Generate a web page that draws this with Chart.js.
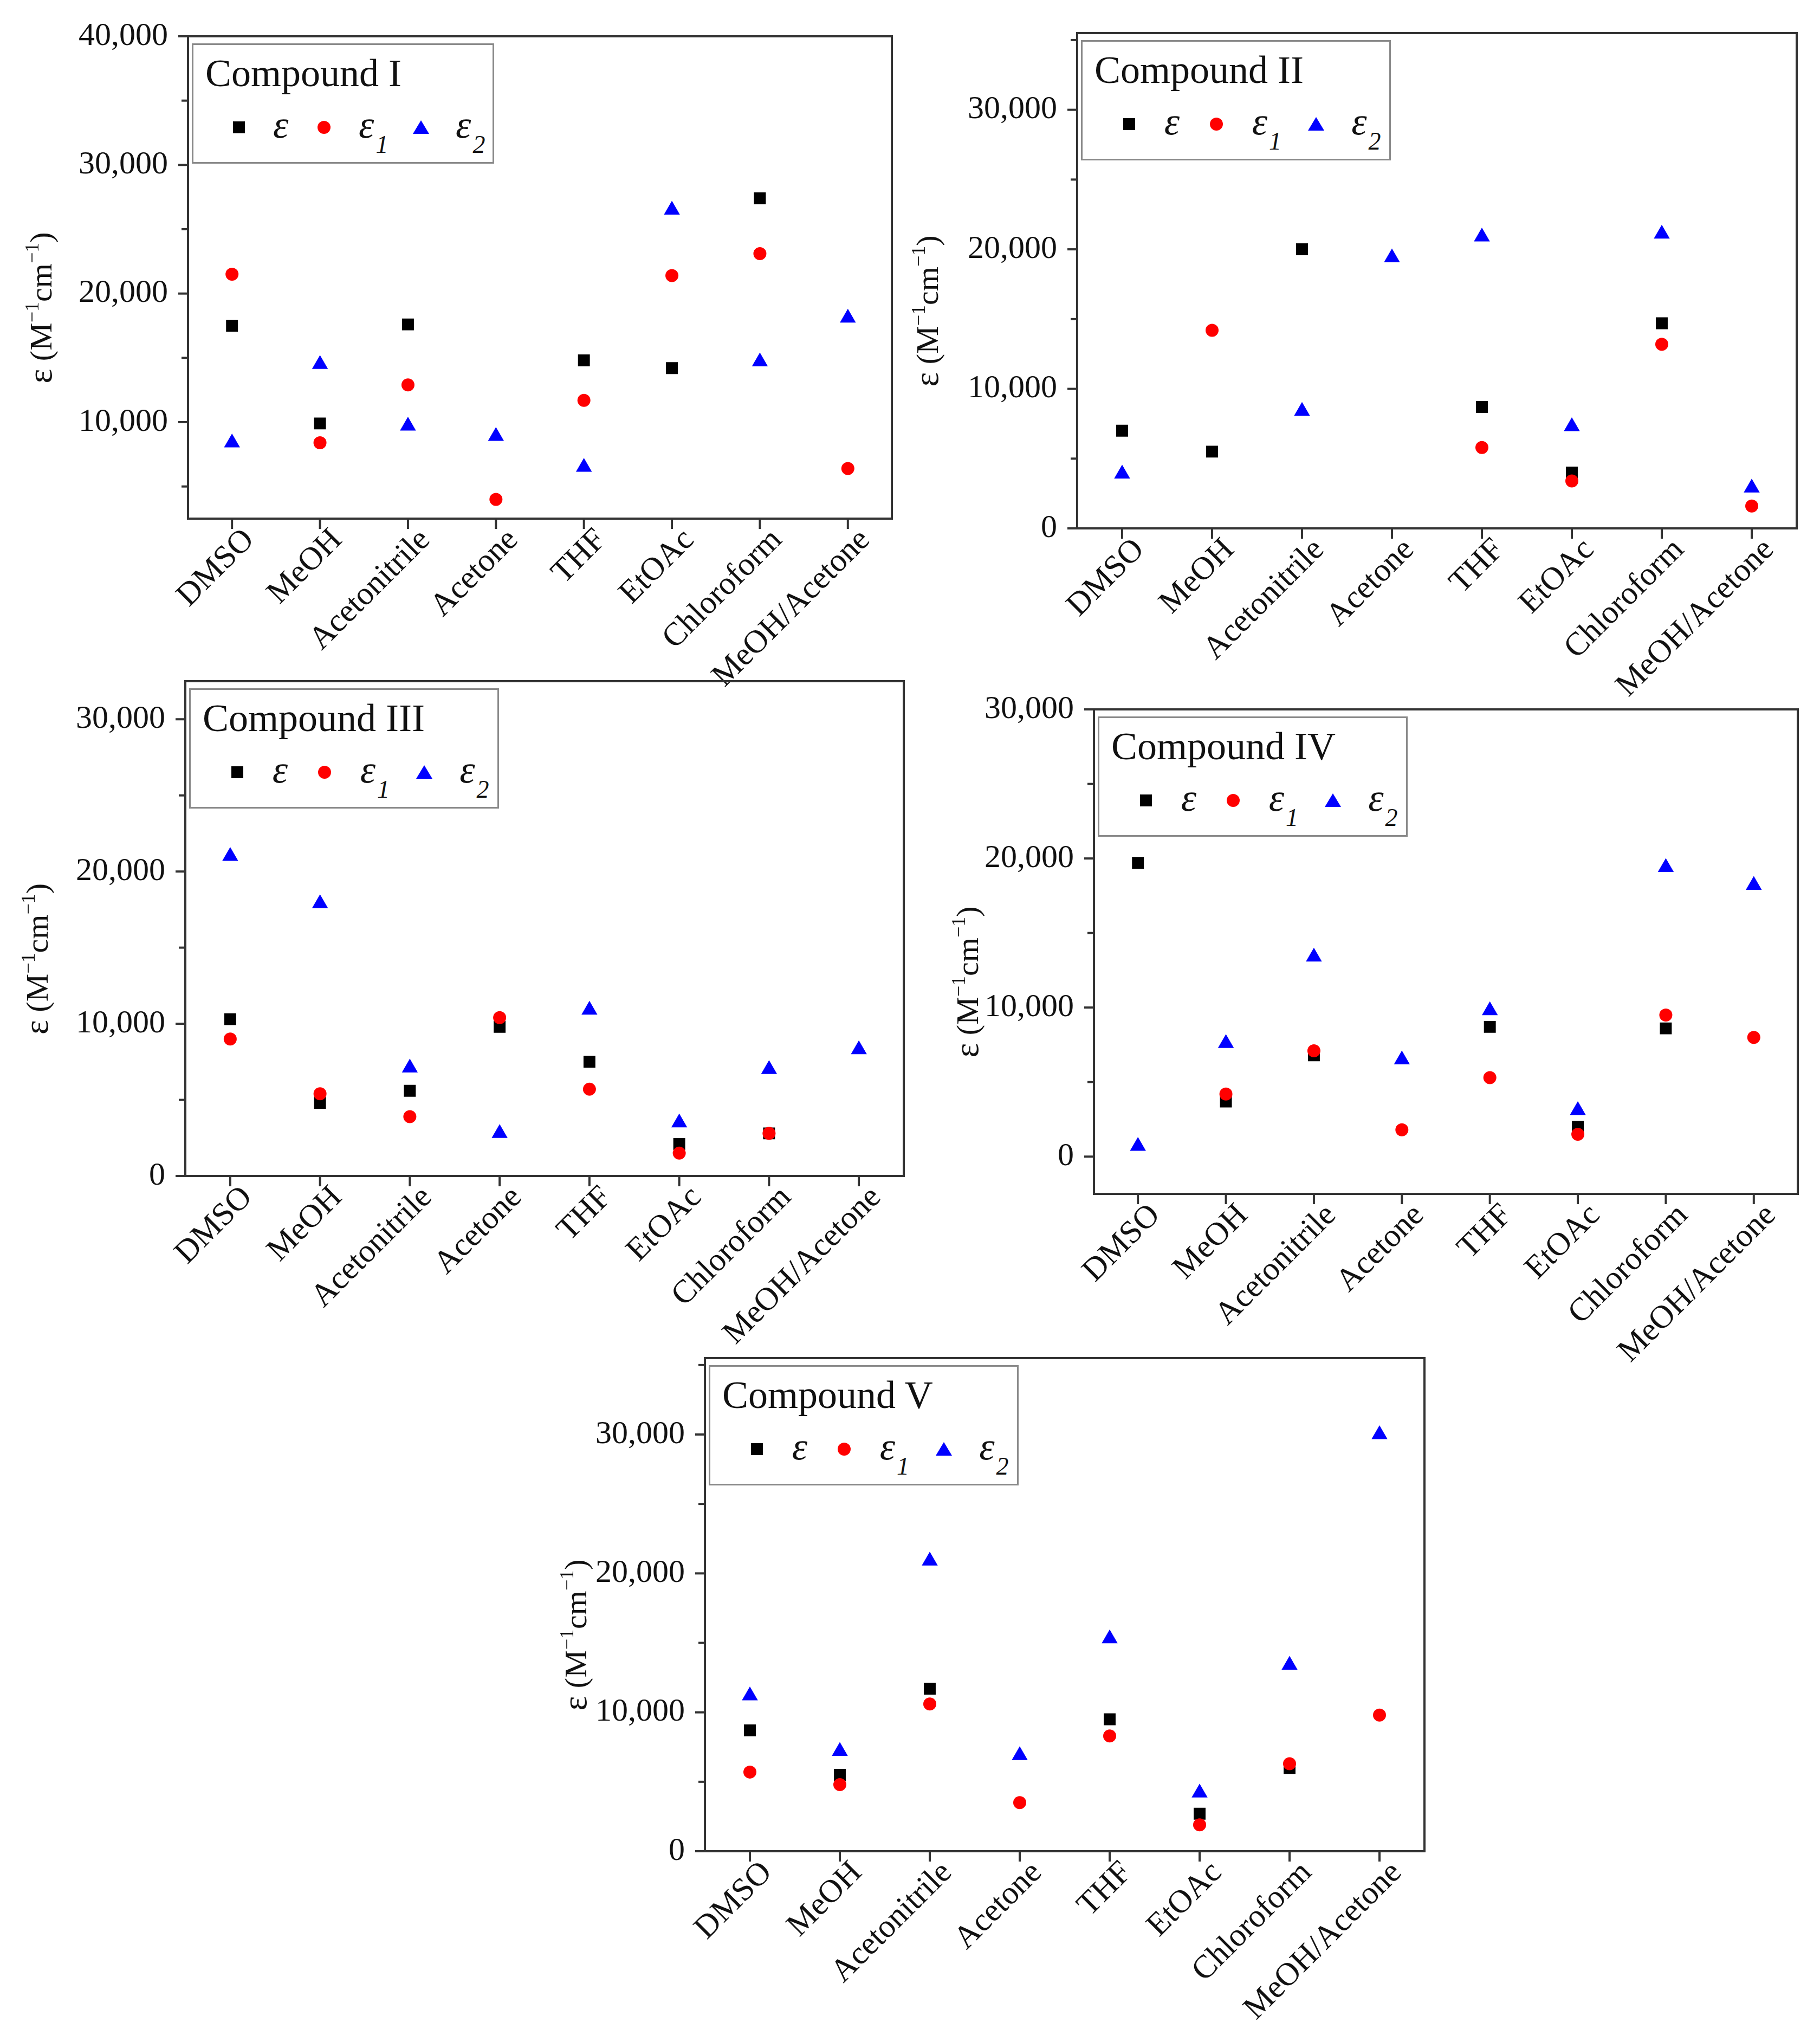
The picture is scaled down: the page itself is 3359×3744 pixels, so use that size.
<!DOCTYPE html>
<html>
<head>
<meta charset="utf-8">
<script src="https://cdn.jsdelivr.net/npm/chart.js@4.4.0/dist/chart.umd.min.js"></script>
<style>
  html, body { margin: 0; padding: 0; background: #fff; }
  #page { position: relative; width: 3359px; height: 3744px; overflow: hidden; background: #fff; }
  canvas { position: absolute; }
  .legend { position: absolute; box-sizing: border-box; border: 3px solid #8a8a8a; background: #fff;
            font-family: "Liberation Serif", "Times New Roman", serif; color: #111; }
  .legend .title { position: absolute; left: 22px; top: 16px; font-size: 72px; line-height: 72px; white-space: nowrap; }
  .legend .lab { position: absolute; top: 111px; font-size: 72px; line-height: 72px; font-style: italic; white-space: nowrap; }
  .legend .sub { font-size: 46px; position: relative; top: 28px; margin-left: 3px; }
  .mk { position: absolute; }
  .mk.sq { width: 22px; height: 22px; background: #000; }
  .mk.ci { width: 24px; height: 24px; border-radius: 50%; background: #f00; }
  .mk.tr { width: 0; height: 0; border-left: 15px solid transparent; border-right: 15px solid transparent; border-bottom: 25px solid #00f; }
</style>
</head>
<body>
<div id="page"></div>
<script>
// solvents on the x axis
const solvents = ['DMSO', 'MeOH', 'Acetonitrile', 'Acetone', 'THF', 'EtOAc', 'Chloroform', 'MeOH/Acetone'];

// molar absorptivity values (M^-1 cm^-1), null = not measured
const compound1Eps  = [17500, 9900, 17600, null, 14800, 14200, 27400, null];
const compound1Eps1 = [21500, 8400, 12900, 4000, 11700, 21400, 23100, 6400];
const compound1Eps2 = [8400, 14500, 9700, 8900, 6500, 26500, 14700, 18100];

const compound2Eps  = [7000, 5500, 20000, null, 8700, 4000, 14700, null];
const compound2Eps1 = [null, 14200, null, null, 5800, 3400, 13200, 1600];
const compound2Eps2 = [3900, null, 8400, 19400, 20900, 7300, 21100, 2900];

const compound3Eps  = [10300, 4800, 5600, 9800, 7500, 2100, 2800, null];
const compound3Eps1 = [9000, 5400, 3900, 10400, 5700, 1500, 2800, null];
const compound3Eps2 = [21000, 17900, 7100, 2800, 10900, 3500, 7000, 8300];

const compound4Eps  = [19700, 3700, 6800, null, 8700, 2000, 8600, null];
const compound4Eps1 = [null, 4200, 7100, 1800, 5300, 1500, 9500, 8000];
const compound4Eps2 = [700, 7600, 13400, 6500, 9800, 3100, 19400, 18200];

const compound5Eps  = [8700, 5500, 11700, null, 9500, 2700, 6000, null];
const compound5Eps1 = [5700, 4800, 10600, 3500, 8300, 1900, 6300, 9800];
const compound5Eps2 = [11200, 7200, 20900, 6900, 15300, 4200, 13400, 30000];

// y axis ranges
const yMins = [2500, 0, 0, -2500, 0];
const yMaxs = [40000, 35500, 32500, 30000, 35500];
const panelNames = ['Compound I', 'Compound II', 'Compound III', 'Compound IV', 'Compound V'];

// where each plot frame sits on the page (left, top, right, bottom) + y title x
const frames = [
  { L: 347,  T: 67,   R: 1646, B: 957,  titleX: 75,   legW: 558 },
  { L: 1988, T: 61,   R: 3316, B: 975,  titleX: 1711, legW: 572 },
  { L: 342,  T: 1257, R: 1668, B: 2170, titleX: 68,   legW: 572 },
  { L: 2019, T: 1309, R: 3318, B: 2203, titleX: 1785, legW: 572 },
  { L: 1301, T: 2506, R: 2629, B: 3416, titleX: 1062, legW: 572 }
];

const series = [
  [compound1Eps, compound1Eps1, compound1Eps2],
  [compound2Eps, compound2Eps1, compound2Eps2],
  [compound3Eps, compound3Eps1, compound3Eps2],
  [compound4Eps, compound4Eps1, compound4Eps2],
  [compound5Eps, compound5Eps1, compound5Eps2]
];

const FONT = '"Liberation Serif", "Times New Roman", serif';
const PAD_TOP = 90, PAD_RIGHT = 40, X_H = 430;

function fmt(v) {
  return String(v).replace(/\B(?=(\d{3})+(?!\d))/g, ',');
}

function framePlugin(titleCanvasX) {
  return {
    id: 'frame',
    beforeDatasetsDraw(chart) {
      const { ctx, chartArea: a, scales: { x, y } } = chart;
      ctx.save();
      ctx.strokeStyle = '#333';
      ctx.lineWidth = 4;
      ctx.strokeRect(a.left, a.top, a.right - a.left, a.bottom - a.top);
      // origin-style outward ticks, long at labelled values
      y.ticks.forEach(t => {
        if (t.value % 5000 !== 0) return;
        const py = y.getPixelForValue(t.value);
        const len = t.value % 10000 === 0 ? 18 : 12;
        ctx.beginPath();
        ctx.moveTo(a.left - len, py);
        ctx.lineTo(a.left, py);
        ctx.stroke();
      });
      x.ticks.forEach((t, i) => {
        const px = x.getPixelForTick(i);
        ctx.beginPath();
        ctx.moveTo(px, a.bottom);
        ctx.lineTo(px, a.bottom + 19);
        ctx.stroke();
      });
      ctx.restore();
    },
    afterDraw(chart) {
      // y axis title with superscripts
      const { ctx, chartArea: a } = chart;
      const parts = [
        { t: 'ε', size: 64, rise: 0 },
        { t: ' (M', size: 58, rise: 0 },
        { t: '−1', size: 36, rise: 24 },
        { t: 'cm', size: 58, rise: 0 },
        { t: '−1', size: 36, rise: 24 },
        { t: ')', size: 58, rise: 0 }
      ];
      ctx.save();
      ctx.fillStyle = '#111';
      let total = 0;
      parts.forEach(p => {
        ctx.font = p.size + 'px ' + FONT;
        p.w = ctx.measureText(p.t).width;
        total += p.w;
      });
      ctx.translate(titleCanvasX, (a.top + a.bottom) / 2 + 56);
      ctx.rotate(-Math.PI / 2);
      ctx.textBaseline = 'alphabetic';
      let cx = -total / 2;
      parts.forEach(p => {
        ctx.font = p.size + 'px ' + FONT;
        ctx.fillText(p.t, cx, 20 - p.rise);
        cx += p.w;
      });
      ctx.restore();
    }
  };
}

const page = document.getElementById('page');

frames.forEach((f, k) => {
  const canvasLeft = f.titleX - 60;
  const yW = f.L - canvasLeft;
  const w = yW + (f.R - f.L) + PAD_RIGHT;
  const h = PAD_TOP + (f.B - f.T) + X_H;

  const cv = document.createElement('canvas');
  cv.width = w;
  cv.height = h;
  cv.style.left = canvasLeft + 'px';
  cv.style.top = (f.T - PAD_TOP) + 'px';
  cv.style.width = w + 'px';
  cv.style.height = h + 'px';
  page.appendChild(cv);

  const [eps, eps1, eps2] = series[k];

  new Chart(cv, {
    type: 'line',
    data: {
      labels: solvents,
      datasets: [
        { label: 'ε', data: eps, showLine: false, pointStyle: 'rect', pointRadius: 15.5,
          pointBackgroundColor: '#000', pointBorderWidth: 0, order: 3 },
        { label: 'ε1', data: eps1, showLine: false, pointStyle: 'circle', pointRadius: 12,
          pointBackgroundColor: '#f00', pointBorderWidth: 0, order: 2 },
        { label: 'ε2', data: eps2, showLine: false, pointStyle: 'triangle', pointRadius: 17,
          pointBackgroundColor: '#00f', pointBorderWidth: 0, order: 1 }
      ]
    },
    options: {
      responsive: false,
      animation: false,
      devicePixelRatio: 1,
      layout: { padding: { top: PAD_TOP, right: PAD_RIGHT, left: 0, bottom: 0 } },
      plugins: { legend: { display: false }, tooltip: { enabled: false } },
      scales: {
        x: {
          type: 'category',
          offset: true,
          grid: { display: false, drawTicks: false },
          border: { display: false },
          ticks: { font: { family: FONT, size: 60 }, color: '#111', minRotation: 45, maxRotation: 45,
                   autoSkip: false, padding: 5, labelOffset: 32 },
          afterFit: s => { s.height = X_H; }
        },
        y: {
          type: 'linear',
          min: yMins[k],
          max: yMaxs[k],
          grid: { display: false, drawTicks: false },
          border: { display: false },
          ticks: { autoSkip: false, padding: 37, color: '#111',
                   font: { family: FONT, size: 60 },
                   callback: v => (v % 10000 === 0 ? fmt(v) : '') },
          afterBuildTicks: s => {
            // every 5000, labels only on multiples of 10000
            const vals = [];
            for (let v = Math.ceil(yMins[k] / 5000) * 5000; v <= yMaxs[k]; v += 5000) vals.push({ value: v });
            s.ticks = vals;
          },
          afterFit: s => { s.width = yW; }
        }
      }
    },
    plugins: [framePlugin(60)]
  });

  // legend box inside the frame
  const s = f.legW / 558;
  const lg = document.createElement('div');
  lg.className = 'legend';
  lg.style.left = (f.L + 7) + 'px';
  lg.style.top = (f.T + 13) + 'px';
  lg.style.width = f.legW + 'px';
  lg.style.height = '222px';
  lg.innerHTML =
    '<div class="title">' + panelNames[k] + '</div>' +
    '<div class="mk sq" style="left:' + (84 * s - 11) + 'px;top:141px"></div>' +
    '<div class="lab" style="left:' + (147 * s) + 'px">ε</div>' +
    '<div class="mk ci" style="left:' + (241 * s - 12) + 'px;top:140px"></div>' +
    '<div class="lab" style="left:' + (305 * s) + 'px">ε<span class="sub">1</span></div>' +
    '<div class="mk tr" style="left:' + (420 * s - 15) + 'px;top:139px"></div>' +
    '<div class="lab" style="left:' + (484 * s) + 'px">ε<span class="sub">2</span></div>';
  page.appendChild(lg);
});
</script>
</body>
</html>
